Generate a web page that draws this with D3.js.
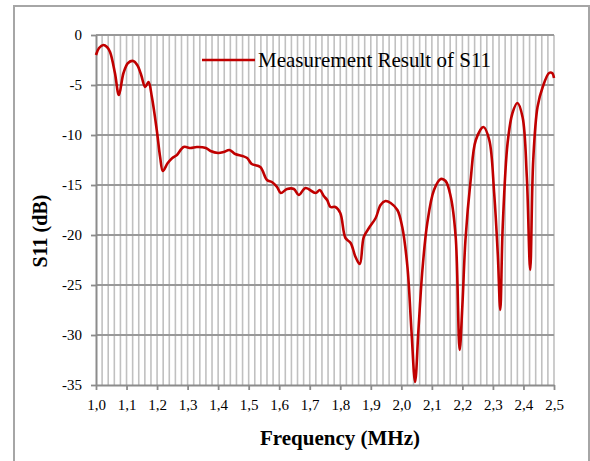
<!DOCTYPE html>
<html>
<head>
<meta charset="utf-8">
<script src="https://cdn.jsdelivr.net/npm/d3@7"></script>
<style>
  body { margin: 0; background: #fff; }
  svg text { font-family: "Liberation Serif", "Times New Roman", Times, serif; }
</style>
</head>
<body>
<div id="chart"></div>
<script>
// frequencia (MHz) e S11 (dB)
var freq = [1.000, 1.010, 1.024, 1.036, 1.046, 1.062, 1.075, 1.090, 1.105, 1.122,
            1.135, 1.148, 1.161, 1.172, 1.183, 1.199, 1.210, 1.219, 1.235, 1.250,
            1.265, 1.287, 1.310, 1.330, 1.360, 1.375, 1.400, 1.418, 1.437, 1.456,
            1.480, 1.495, 1.510, 1.538, 1.560, 1.576, 1.593, 1.605, 1.626, 1.648,
            1.664, 1.686, 1.719, 1.733, 1.746, 1.757, 1.768, 1.784, 1.800, 1.817,
            1.834, 1.850, 1.864, 1.877, 1.894, 1.916, 1.932, 1.948, 1.965, 1.987,
            2.003, 2.020, 2.033, 2.045, 2.056, 2.069, 2.085, 2.107, 2.129, 2.145,
            2.162, 2.178, 2.191, 2.200, 2.210, 2.227, 2.244, 2.269, 2.288, 2.304,
            2.316, 2.324, 2.332, 2.348, 2.364, 2.380, 2.397, 2.411, 2.422, 2.432,
            2.446, 2.463, 2.484, 2.494, 2.500];
var s11 = [-2.0, -1.3, -1.0, -1.2, -1.7, -3.8, -6.0, -3.8, -2.8, -2.6,
           -3.0, -4.0, -5.2, -4.7, -6.2, -9.5, -12.2, -13.6, -12.8, -12.3,
           -12.0, -11.2, -11.3, -11.2, -11.3, -11.6, -11.8, -11.7, -11.5, -11.9,
           -12.1, -12.3, -12.9, -13.2, -14.5, -14.7, -15.2, -15.8, -15.4, -15.4,
           -16.0, -15.3, -15.8, -15.5, -16.1, -16.5, -17.2, -17.2, -17.8, -20.3,
           -20.8, -22.2, -22.9, -20.2, -19.3, -18.3, -17.0, -16.6, -16.8, -17.5,
           -19.2, -23.2, -29.5, -34.7, -29.5, -23.5, -18.8, -15.5, -14.4, -14.6,
           -16.2, -20.2, -31.5, -27.0, -20.5, -14.5, -10.5, -9.2, -10.5, -15.8,
           -22.0, -27.5, -19.2, -10.8, -7.8, -6.8, -8.2, -14.2, -23.5, -12.5,
           -7.2, -5.2, -3.8, -3.8, -4.3];

var xTicks = [1.0, 1.1, 1.2, 1.3, 1.4, 1.5, 1.6, 1.7, 1.8, 1.9, 2.0, 2.1, 2.2, 2.3, 2.4, 2.5];
var yTicks = [0, -5, -10, -15, -20, -25, -30, -35];
var seriesName = "Measurement Result of S11";

var data = freq.map(function(f, i) { return { f: f, v: s11[i] }; });

var serif = "'Liberation Serif', 'Times New Roman', Times, serif";

var W = 590, H = 461;
var margin = { top: 35, right: 36, bottom: 76, left: 96 };
var width = W - margin.left - margin.right;
var height = H - margin.top - margin.bottom;

var root = d3.select("#chart").append("svg")
    .attr("width", W)
    .attr("height", H)
    .attr("font-family", serif);

// moldura externa
root.append("rect")
    .attr("x", 14).attr("y", 6)
    .attr("width", 575).attr("height", 480)
    .attr("fill", "none")
    .attr("stroke", "#a6a6a6")
    .attr("stroke-width", 2);

var svg = root.append("g")
    .attr("transform", "translate(" + margin.left + "," + margin.top + ")");

var xScale = d3.scaleLinear().domain([1.0, 2.5]).range([0, width]);
var yScale = d3.scaleLinear().domain([-35, 0]).range([height, 0]);

// grade vertical (0.02 MHz)
var vGrid = d3.range(1, 76).map(function(i) { return 1.0 + i * 0.02; });
svg.selectAll(".vgrid")
   .data(vGrid)
   .enter()
   .append("line")
   .attr("class", "vgrid")
   .attr("x1", function(d) { return xScale(d); })
   .attr("x2", function(d) { return xScale(d); })
   .attr("y1", 0)
   .attr("y2", height)
   .attr("stroke", "#c0c0c0")
   .attr("stroke-width", 1.6);

// grade horizontal
svg.selectAll(".hgrid")
   .data(yTicks.filter(function(d) { return d !== -35; }))
   .enter()
   .append("line")
   .attr("class", "hgrid")
   .attr("x1", 0)
   .attr("x2", width)
   .attr("y1", function(d) { return yScale(d); })
   .attr("y2", function(d) { return yScale(d); })
   .attr("stroke", "#999")
   .attr("stroke-width", 1.8);

// eixos
var xAxis = svg.append("g")
   .attr("transform", "translate(0," + height + ")")
   .call(d3.axisBottom(xScale)
        .tickValues(xTicks)
        .tickSizeInner(5)
        .tickSizeOuter(0)
        .tickPadding(9)
        .tickFormat(function(d) { return d3.format(".1f")(d).replace(".", ","); }));

var yAxis = svg.append("g")
   .call(d3.axisLeft(yScale)
        .tickValues(yTicks)
        .tickSizeInner(5)
        .tickSizeOuter(0)
        .tickPadding(9)
        .tickFormat(function(d) { return d === 0 ? "0" : "-" + Math.abs(d); }));

[xAxis, yAxis].forEach(function(a) {
    a.attr("font-family", serif).attr("font-size", 15);
    a.select(".domain").attr("stroke", "#8c8c8c").attr("stroke-width", 2);
    a.selectAll(".tick line").attr("stroke", "#8c8c8c").attr("stroke-width", 1.8);
    a.selectAll(".tick text").attr("fill", "#000");
});

// curva
var line = d3.line()
    .x(function(d) { return xScale(d.f); })
    .y(function(d) { return yScale(d.v); })
    .curve(d3.curveCatmullRom.alpha(0.5));

svg.append("path")
   .datum(data)
   .attr("d", line)
   .attr("fill", "none")
   .attr("stroke", "#c00000")
   .attr("stroke-width", 2.6)
   .attr("stroke-linejoin", "round");

// legenda
root.append("line")
    .attr("x1", 202).attr("x2", 255)
    .attr("y1", 60).attr("y2", 60)
    .attr("stroke", "#c00000")
    .attr("stroke-width", 2.6);

root.append("text")
    .attr("x", 258)
    .attr("y", 67)
    .attr("font-size", 21)
    .text(seriesName);

// rotulos dos eixos
root.append("text")
    .attr("x", 340)
    .attr("y", 445)
    .attr("text-anchor", "middle")
    .attr("font-size", 21)
    .attr("font-weight", "bold")
    .text("Frequency (MHz)");

root.append("text")
    .attr("transform", "translate(47,231) rotate(-90)")
    .attr("text-anchor", "middle")
    .attr("font-size", 20)
    .attr("font-weight", "bold")
    .text("S11 (dB)");
</script>
</body>
</html>
